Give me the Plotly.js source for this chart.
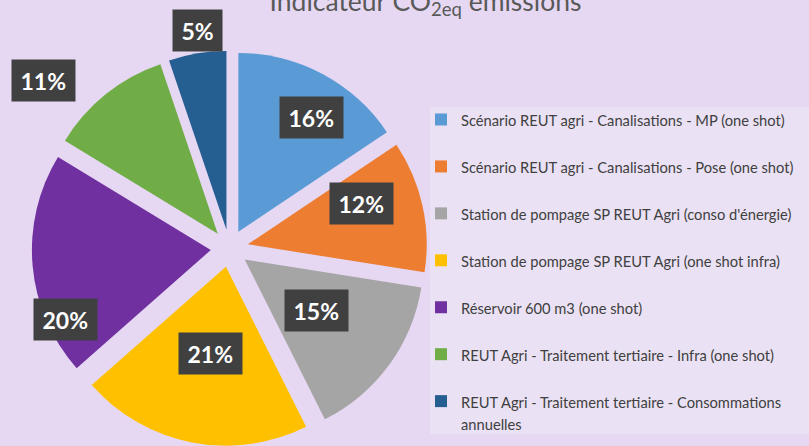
<!DOCTYPE html>
<html>
<head>
<meta charset="utf-8">
<script src="https://cdn.plot.ly/plotly-3.0.1.min.js"></script>
<style>html,body{margin:0;padding:0;background:#E6D8F2;}#chart{width:809px;height:446px;}</style>
</head>
<body>
<div id="chart"></div>
<script>
// ---- data ----
var categories = [
  "Scénario REUT agri - Canalisations - MP (one shot)",
  "Scénario REUT agri - Canalisations - Pose (one shot)",
  "Station de pompage SP REUT Agri (conso d'énergie)",
  "Station de pompage SP REUT Agri (one shot infra)",
  "Réservoir 600 m3 (one shot)",
  "REUT Agri - Traitement tertiaire - Infra (one shot)",
  "REUT Agri - Traitement tertiaire - Consommations<br>annuelles"
];
var shares = [15.6, 11.9, 15.1, 20.9, 20.2, 11.1, 5.2];
var colors = ["#5B9BD5", "#ED7D31", "#A5A5A5", "#FFC000", "#7030A0", "#70AD47", "#255E91"];

// ---- label placement (style) ----
var labelSpot = [0.575, 0.355, 0.487, 0.493, 0.246, 0.27, 0.556];   // position along slice arc
var labelRadius = [0.863, 0.781, 0.60, 0.60, 1.0, 1.40, 1.23];       // fraction of radius

var W = 809, H = 446;
var pull = 0.105;
var domX = [31.7 / W, 427.3 / W];
var domY = [0, 0.8863];

// every legend entry uses two lines so that rows are evenly spaced
var legendText = categories.map(function (c) {
  var t = c.indexOf('<br>') >= 0 ? c : c + '<br>&nbsp;';
  return "<span style='font-size:14.7px'>" + t.replace('<br>', "</span><br><span style='font-size:14.7px'>") + "</span>";
});

// geometry of pie (same formulas plotly uses)
var boxW = W * (domX[1] - domX[0]), boxH = H * (domY[1] - domY[0]);
var r = Math.min(boxW, boxH) / 2 / (1 + pull);
var cx = W * (domX[0] + domX[1]) / 2;
var cy = H * (1 - domY[0]) - boxH / 2;
var total = shares.reduce(function (a, b) { return a + b; }, 0);

var annotations = [];
var cum = 0;
shares.forEach(function (v, i) {
  var a0 = cum / total * 360, a1 = (cum + v) / total * 360;
  cum += v;
  var th = (a0 + (a1 - a0) * labelSpot[i]) * Math.PI / 180;
  var px = cx + labelRadius[i] * r * Math.sin(th);
  var py = cy - labelRadius[i] * r * Math.cos(th);
  annotations.push({
    x: px / W, y: 1 - py / H, xref: 'paper', yref: 'paper',
    text: Math.round(v / total * 100) + '%',
    showarrow: false,
    font: {family: 'Lato, sans-serif', size: 23, color: '#FFFFFF', weight: 'bold'},
    bgcolor: '#404040',
    borderpad: 8.5,
    height: 24,
    xanchor: 'center', yanchor: 'middle'
  });
});

var trace = {
  type: 'pie',
  labels: legendText,
  values: shares,
  marker: {colors: colors, line: {width: 0}},
  sort: false,
  direction: 'clockwise',
  rotation: 0,
  pull: pull,
  textinfo: 'none',
  hoverinfo: 'percent',
  domain: {x: domX, y: domY}
};

var layout = {
  width: W, height: H,
  margin: {l: 0, r: 0, t: 0, b: 0},
  paper_bgcolor: '#E6D8F2',
  plot_bgcolor: '#E6D8F2',
  title: {
    text: 'Indicateur CO<sub>2eq</sub> émissions',
    font: {family: 'Lato, sans-serif', size: 26.5, color: '#595959'},
    x: 425.5 / W, xanchor: 'center',
    y: 0.997, yanchor: 'middle', yref: 'container'
  },
  showlegend: true,
  legend: {
    x: 421 / W, xanchor: 'left',
    y: 1 - 102 / H, yanchor: 'top',
    bgcolor: 'rgba(0,0,0,0)',
    borderwidth: 0,
    valign: 'top',
    font: {family: 'Lato, sans-serif', size: 16.9, color: '#404040'},
    traceorder: 'normal'
  },
  shapes: [{
    type: 'rect', xref: 'paper', yref: 'paper', layer: 'below',
    x0: 430 / W, x1: 1, y0: 1 - 434 / H, y1: 1 - 107 / H,
    fillcolor: '#EAE2F4', line: {width: 0}
  }],
  annotations: annotations
};

Plotly.newPlot('chart', [trace], layout, {displayModeBar: false, staticPlot: true});
</script>
</body>
</html>
